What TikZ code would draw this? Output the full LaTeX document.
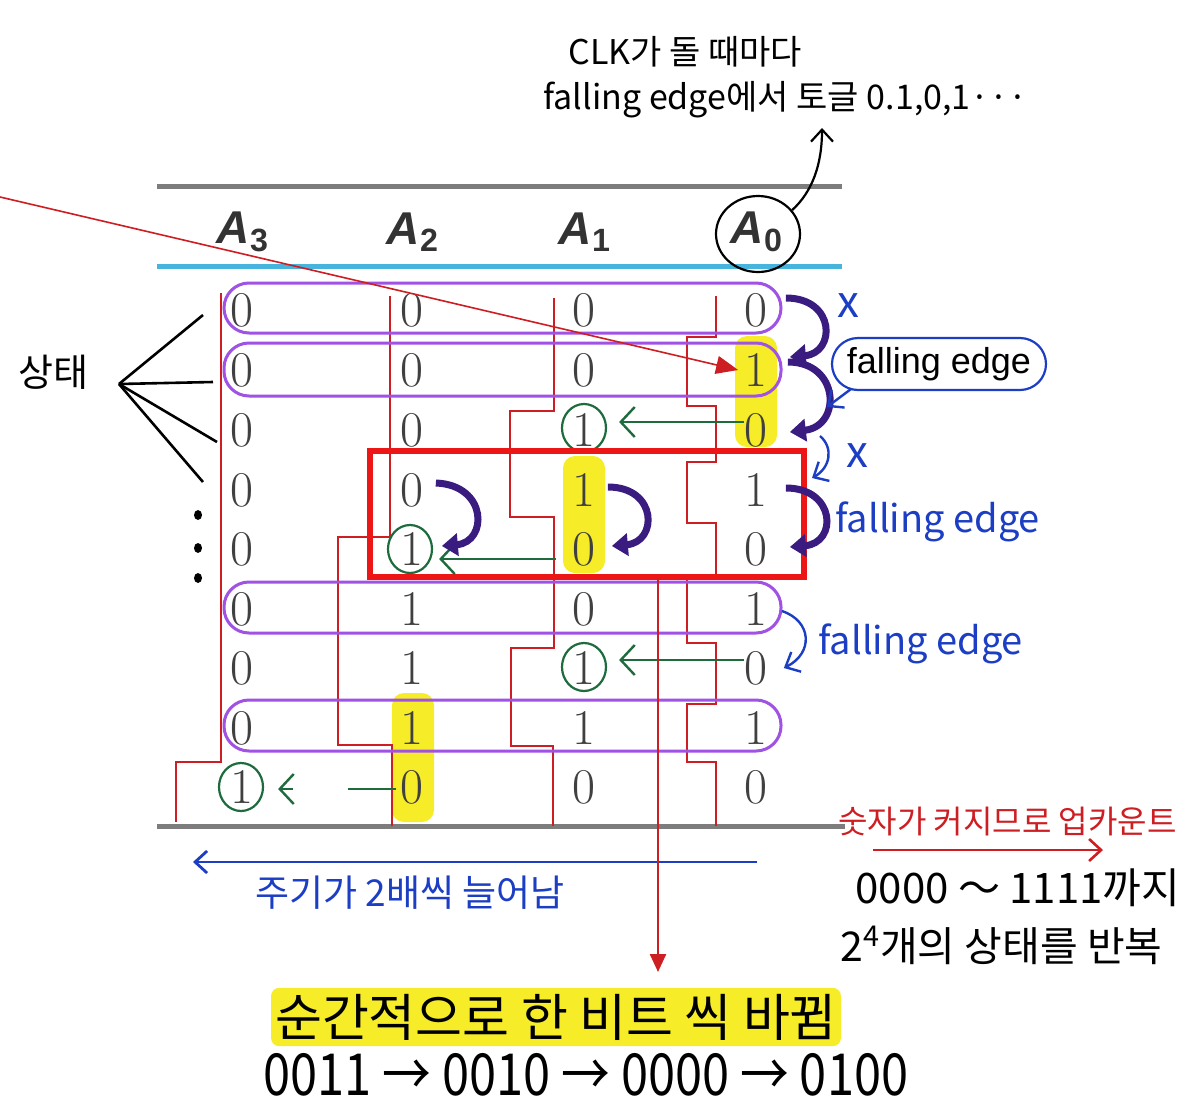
\documentclass[tikz,border=0pt]{standalone}
\usepackage{fontspec}
\usepackage{graphicx}
\newfontfamily\krfont{Noto Sans CJK KR}
\newfontfamily\boxfont{Liberation Sans}
\usetikzlibrary{arrows.meta,positioning,calc,shapes.geometric}
\newcommand{\fsz}[1]{\fontsize{#1}{#1}\selectfont}

\definecolor{hl}{RGB}{246,236,40}
\definecolor{rowpurple}{RGB}{160,82,228}
\definecolor{wave}{RGB}{205,30,35}
\definecolor{boxred}{RGB}{236,22,22}
\definecolor{indigo}{RGB}{58,28,128}
\definecolor{pen}{RGB}{28,62,196}
\definecolor{gpen}{RGB}{30,108,62}
\definecolor{rulegray}{RGB}{125,125,125}
\definecolor{rulecyan}{RGB}{70,180,220}

\tikzset{
  digit/.style={font=\fsz{25pt}, text=black!75, inner sep=0pt},
  hdr/.style={font=\boxfont\bfseries\itshape\fsz{23pt}, text=black!80, inner sep=0pt},
  wavy/.style={wave, line width=1.2pt},
  rowbox/.style={rowpurple, line width=1.5pt, rounded corners=12.5pt},
  flipper/.style={indigo, line width=3.5pt, -{Triangle[length=8pt,width=11pt]}},
  gring/.style={ellipse, draw=gpen, line width=1.1pt, minimum width=22pt, minimum height=24pt, inner sep=0pt},
  garrow/.style={gpen, line width=1.2pt, -{Straight Barb[length=7pt,width=15pt]}},
  note/.style={font=\krfont\fsz{17pt}, inner sep=0pt},
  bluenote/.style={note, text=pen},
  penarrow/.style={pen, line width=1.2pt, -{Straight Barb[length=6pt,width=11pt]}},
}

\begin{document}
\begin{tikzpicture}[x=0.5pt,y=-0.5pt,>={Stealth[]}]
  \fill[white] (0,0) rectangle (1200,1114);
  \useasboundingbox (0,0) rectangle (1200,1114);

  % highlights
  \fill[hl, rounded corners=6pt] (735,336) rectangle (777,447);
  \fill[hl, rounded corners=6pt] (563,456) rectangle (605,573);
  \fill[hl, rounded corners=6pt] (392,693) rectangle (434,822);

  \draw[rulegray, line width=2.5pt] (157,186) -- (842,186);
  \draw[rulecyan, line width=2.5pt] (157,266) -- (842,266);
  \draw[rulegray, line width=2.5pt] (157,826) -- (845,826);

  % waveforms A0..A3
  \draw[wavy] (716,296) -- (716,337) -- (687,337) -- (687,406) -- (716,406) -- (716,462) -- (687,462) -- (687,523) -- (716,523) -- (716,578) -- (687,578) -- (687,643) -- (716,643) -- (716,704) -- (687,704) -- (687,762) -- (716,762) -- (716,826);
  \draw[wavy] (554,298) -- (554,411) -- (510,411) -- (510,517) -- (554,517) -- (554,648) -- (511,648) -- (511,746) -- (553,746) -- (553,826);
  \draw[wavy] (390,296) -- (390,537) -- (338,537) -- (338,745) -- (392,745) -- (392,826);
  \draw[wavy] (221,293) -- (221,762) -- (176,762) -- (176,822);

  \foreach \t/\b in {283/333, 343/396, 582/633, 700/751}
    \draw[rowbox] (224,\t) rectangle (781,\b);

  % table
  \node[hdr] (h3) at (243,232) {A\textsubscript{\upshape 3}};
  \node[hdr] (h2) at (413,232) {A\textsubscript{\upshape 2}};
  \node[hdr] (h1) at (585,232) {A\textsubscript{\upshape 1}};
  \node[hdr] (h0) at (757,232) {A\textsubscript{\upshape 0}};
  \foreach \r/\y/\p/\q/\s/\t in {1/310/0/0/0/0, 2/370/0/0/0/1, 3/430/0/0/1/0, 4/490/0/0/1/1, 5/549/0/1/0/0, 6/609/0/1/0/1, 7/668/0/1/1/0, 8/728/0/1/1/1, 9/787/1/0/0/0}{
    \node[digit] (d\r-3) at (242,\y) {\p};
    \node[digit] (d\r-2) at (412,\y) {\q};
    \node[digit] (d\r-1) at (584,\y) {\s};
    \node[digit] (d\r-0) at (756,\y) {\t};
  }
  \node[gring] (c3) at (584,428) {};
  \node[gring] (c5) at (410,549) {};
  \node[gring] (c7) at (584,667) {};
  \node[gring] (c9) at (241,787) {};

  \node[draw=boxred, line width=3pt, minimum width=217pt, minimum height=63pt, inner sep=0pt] (blk) at (587,514) {};

  % carries
  \draw[garrow] ([yshift=4pt]d3-0.west) -- ([xshift=6pt,yshift=3pt]c3.east);
  \draw[garrow] ([xshift=-8pt,yshift=-5pt]d5-1.west) -- ([xshift=3pt,yshift=-5pt]c5.east);
  \draw[garrow] ([yshift=4pt]d7-0.west) -- ([xshift=6pt,yshift=3.5pt]c7.east);
  \draw[gpen, line width=1.2pt] ([xshift=-2pt,yshift=-1pt]d9-2.west) -- ++(-48,0);
  \draw[garrow] ([xshift=14.5pt,yshift=-1pt]c9.east) -- ([xshift=7pt,yshift=-1pt]c9.east);

  % toggles
  \draw[flipper] ([xshift=9pt,yshift=6pt]d1-0.east) .. controls +(50,0) and +(46,-4) .. ([xshift=11pt,yshift=6.5pt]d2-0.east);
  \draw[flipper] ([xshift=10pt,yshift=4pt]d2-0.east) .. controls +(52,0) and +(52,-6) .. ([xshift=11pt,yshift=-1pt]d3-0.east);
  \draw[flipper] ([xshift=9pt,yshift=1pt]d4-0.east) .. controls +(50,0) and +(48,-4) .. ([xshift=11pt,yshift=1pt]d5-0.east);
  \draw[flipper] ([xshift=6pt,yshift=1.5pt]d4-1.east) .. controls +(50,0) and +(46,-4) .. ([xshift=8pt,yshift=1.5pt]d5-1.east);
  \draw[flipper] ([xshift=6pt,yshift=3.5pt]d4-2.east) .. controls +(52,2) and +(46,-4) .. ([xshift=9pt,yshift=1.5pt]d5-2.east);

  % pen notes right
  \node[bluenote, font=\krfont\fsz{22pt}] (x1) at (848,306) {x};
  \node[bluenote, font=\krfont\fsz{22pt}] (x2) at (857,456) {x};
  \node[draw=pen, line width=1.1pt, rounded corners=13pt, minimum width=107pt, minimum height=26pt, inner sep=0pt, font=\boxfont\fsz{18pt}] (fbox) at (939,364) {falling edge};
  \coordinate (ftip) at (827,407);
  \draw[penarrow] ([xshift=10pt,yshift=1pt]fbox.south west) -- (ftip);
  \coordinate (bx1) at (820,436);
  \coordinate (bx2) at (812,478);
  \draw[penarrow] (bx1) .. controls (834,448) and (830,468) .. (bx2);
  \node[bluenote, font=\krfont\fsz{19pt}, anchor=west] (fe1) at (835,522) {falling edge};
  \draw[penarrow] ([xshift=7pt,yshift=-1pt]d6-0.east) .. controls +(30,10) and +(30,-15) .. ([xshift=8pt]d7-0.east);
  \node[bluenote, font=\krfont\fsz{19pt}, anchor=west] (fe2) at (818,644) {falling edge};

  % clock note
  \node[note, anchor=west] (clk1) at (568,52) {CLK가 돌 때마다};
  \node[note, anchor=west] (clk2) at (543,100) {falling edge에서 토글 0.1,0,1···};
  \node[draw, ellipse, line width=1.1pt, minimum width=42pt, minimum height=38pt] (a0ring) at (758,234) {};
  \coordinate (clktip) at (822,128);
  \draw[line width=1.1pt, -{Straight Barb[length=6pt,width=11pt]}] (a0ring.35) .. controls (812,192) and (822,165) .. (clktip);

  % states
  \node[note, font=\krfont\fsz{19pt}, anchor=west] (st) at (18,372) {상태};
  \coordinate (fan) at (119,384);
  \coordinate (s1) at (203,315);
  \coordinate (s2) at (213,382);
  \coordinate (s3) at (217,442);
  \coordinate (s4) at (203,482);
  \foreach \s in {s1,s2,s3,s4}
    \draw[line width=1.3pt] (fan) -- (\s);
  \foreach \y in {515,548,578}
    \fill (198,\y) ellipse (4 and 5);

  \coordinate (lt) at (0,197);
  \draw[wave, line width=0.8pt, -{Triangle[length=11pt,width=9pt]}] (lt) -- ([xshift=-3pt]d2-0.west);

  % bottom notes
  \coordinate (pr) at (757,862);
  \coordinate (pl) at (193,862);
  \draw[penarrow, line width=1.4pt] (pr) -- (pl);
  \node[bluenote, font=\krfont\fsz{18.5pt}, anchor=west] (period) at (255,893) {주기가 2배씩 늘어남};

  \node[note, font=\krfont\fsz{16pt}, text=wave, anchor=west] (upc) at (838,822) {숫자가 커지므로 업카운트};
  \coordinate (ul) at (873,850);
  \coordinate (ur) at (1103,850);
  \draw[wave, line width=1.3pt, -{Straight Barb[length=6pt,width=11pt]}] (ul) -- (ur);
  \node[note, font=\krfont\fsz{21pt}, anchor=west] (range) at (855,888) {0000 ～ 1111까지};
  \node[note, font=\krfont\fsz{20.5pt}, anchor=west] (reps) at (840,945) {2\textsuperscript{4}개의 상태를 반복};

  \node[font=\krfont\fsz{25.5pt}, fill=hl, rounded corners=4pt, inner xsep=2pt, inner ysep=3pt] (flash) at (556,1017) {순간적으로 한 비트 씩 바뀜};
  \node[font=\krfont\fsz{29pt}, inner sep=0pt] (seq) at (586,1075) {\scalebox{0.84}[1]{0011 → 0010 → 0000 → 0100}};
  \coordinate (drop) at (658,578);
  \coordinate (droptip) at (658,972);
  \draw[wave, line width=1.2pt, -{Triangle[length=9pt,width=8pt]}] (drop) -- (droptip);
\end{tikzpicture}
\end{document}
